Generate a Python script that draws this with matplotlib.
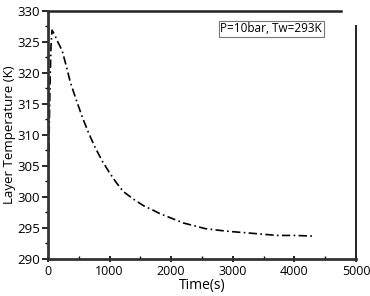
import numpy as np
import matplotlib.pyplot as plt
from matplotlib.ticker import MultipleLocator

# layer temperature history
time_s = [5, 12, 22, 35, 50, 65, 100, 160, 230, 300, 360, 450, 560, 660, 765,
          880, 1000, 1110, 1220, 1380, 1550, 1700, 1820, 2000, 2200, 2400,
          2550, 2800, 3000, 3250, 3480, 3730, 4000, 4290]
temp_k = [302.0, 306.0, 312.0, 319.0, 324.5, 326.9, 326.3, 325.0, 323.6, 321.0,
          318.6, 315.9, 312.8, 310.3, 308.0, 305.8, 303.9, 302.3, 300.9,
          299.7, 298.6, 297.9, 297.3, 296.6, 295.8, 295.3, 294.9, 294.6,
          294.4, 294.2, 294.0, 293.8, 293.8, 293.7]

XLIM = (0, 5000)
YLIM = (290, 330)
LABEL = "P=10bar, Tw=293K"

plt.rcParams['font.family'] = ['Open Sans', 'DejaVu Sans']

fig = plt.figure(figsize=(3.7, 2.96), dpi=100)
ax = fig.add_axes([0.1297, 0.125, 0.8324, 0.838])

ax.plot(time_s, temp_k, color="black", lw=1.2,
        linestyle=(0, (5, 2, 1, 2)))

ax.set_xlim(*XLIM)
ax.set_ylim(*YLIM)
ax.xaxis.set_major_locator(MultipleLocator(1000))
ax.xaxis.set_minor_locator(MultipleLocator(500))
ax.yaxis.set_major_locator(MultipleLocator(5))
ax.yaxis.set_minor_locator(MultipleLocator(2.5))

for s in ("top", "right"):
    ax.spines[s].set_visible(False)
for s in ("left", "bottom"):
    ax.spines[s].set_linewidth(2.0)
    ax.spines[s].set_color("#333333")

# odd partial frame lines of the original
ax.axhline(YLIM[1], xmin=0, xmax=0.952, color="#222222", lw=1.8, clip_on=False)
ax.axvline(XLIM[1], ymin=0, ymax=0.94, color="#222222", lw=1.4, clip_on=False)

ax.tick_params(axis="x", which="major", direction="inout", length=4, width=1.2,
               labelsize=9, pad=2)
ax.tick_params(axis="x", which="minor", direction="in", length=2.5, width=1.0)
ax.tick_params(axis="y", which="major", direction="out", length=4, width=1.2,
               labelsize=9.5, pad=1.5)
ax.tick_params(axis="y", which="minor", direction="out", length=2.5, width=1.0)

ax.set_xlabel("Time(s)", fontsize=10, labelpad=0)
ax.set_ylabel("Layer Temperature (K)", fontsize=9.5, labelpad=1)

ax.text(0.725, 0.928, LABEL, transform=ax.transAxes, ha="center", va="center",
        fontsize=8.5,
        bbox=dict(boxstyle="square,pad=0.15", facecolor="white",
                  edgecolor="#777777", lw=0.8))

fig.savefig("out.png", dpi=100)
